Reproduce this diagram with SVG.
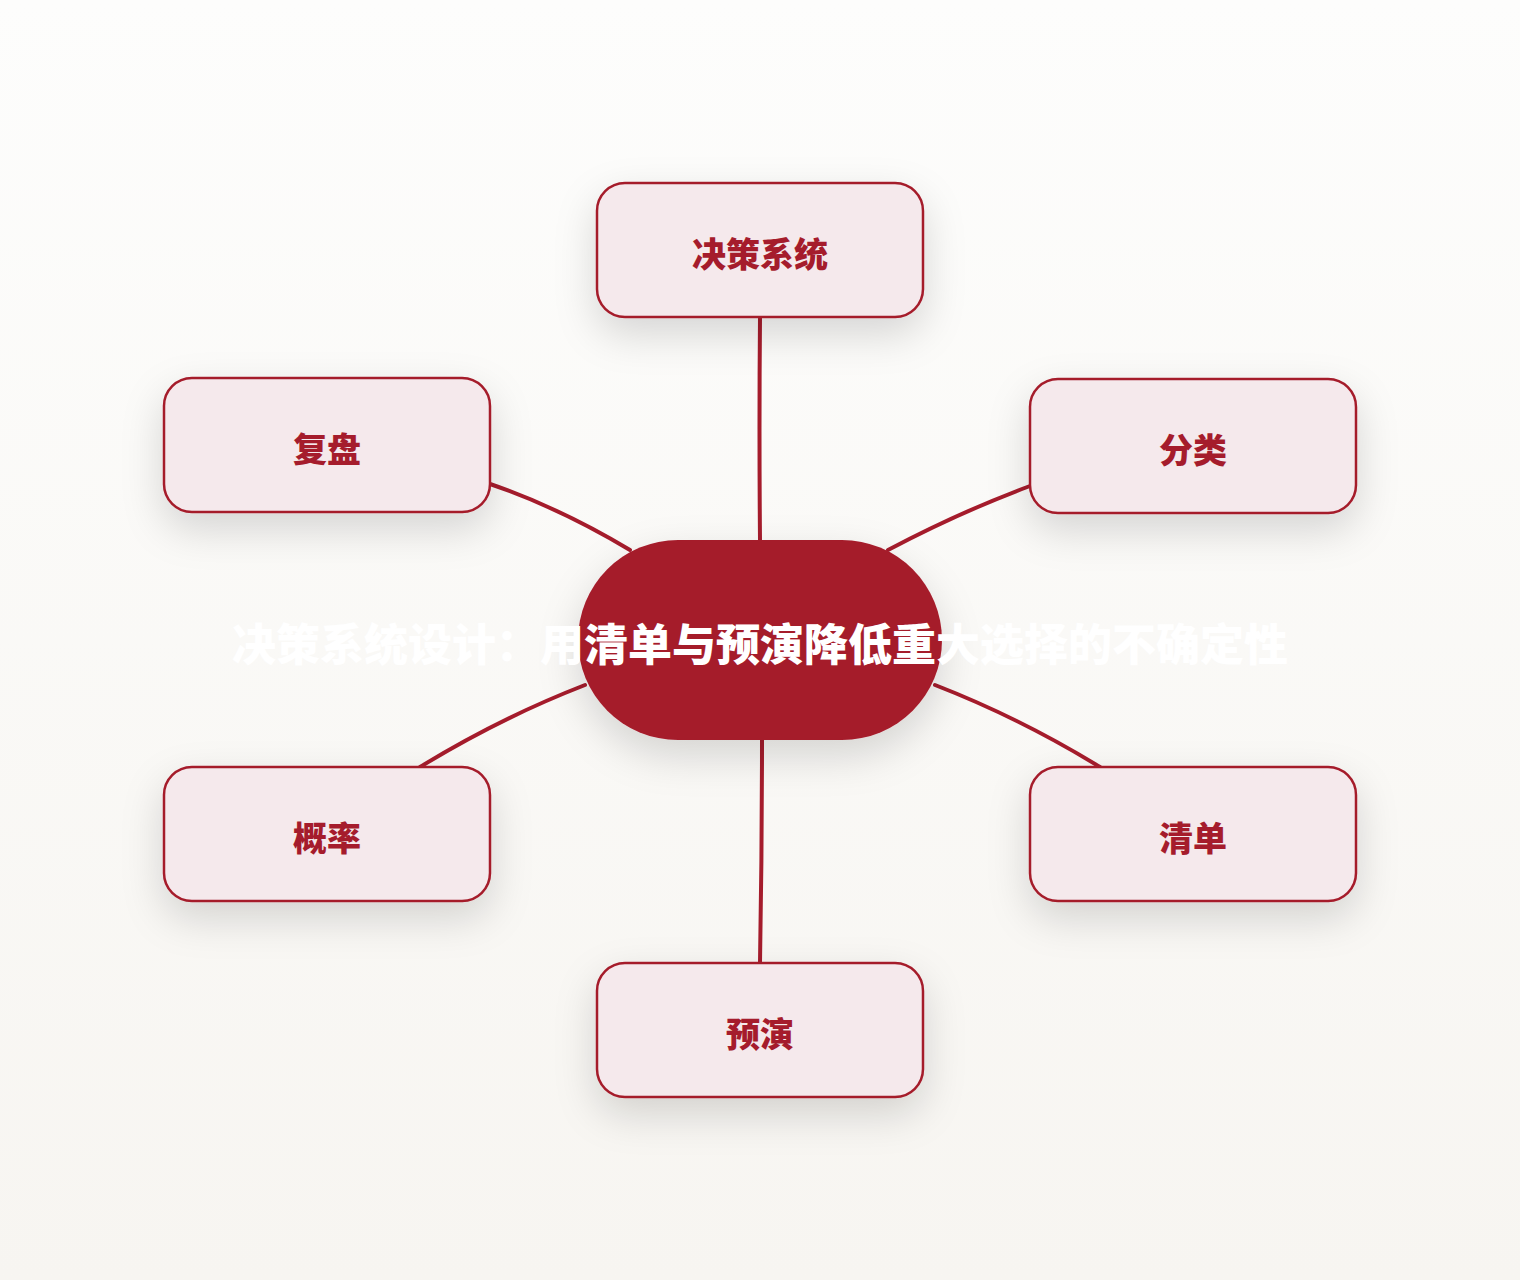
<svg xmlns="http://www.w3.org/2000/svg" width="1520" height="1280" viewBox="0 0 1520 1280">
<defs>
<linearGradient id="bg" x1="0" y1="0" x2="0" y2="1">
<stop offset="0" stop-color="#fdfdfc"/>
<stop offset="1" stop-color="#f7f5f1"/>
</linearGradient>
<filter id="sh" x="-40%" y="-40%" width="180%" height="200%">
<feDropShadow dx="0" dy="16" stdDeviation="20" flood-color="#000" flood-opacity="0.15"/>
</filter>
</defs>
<style>
.node rect{fill:#f5e9ec;stroke:#a51c2c;stroke-width:2.5;filter:url(#sh)}
.node text{font-family:"Noto Sans CJK SC","Noto Sans",sans-serif;font-weight:900;font-size:34px;fill:#a51c2c;text-anchor:middle;dominant-baseline:central}
.edges path{fill:none;stroke:#a51c2c;stroke-width:4;stroke-linecap:round}
.center rect{fill:#a51c2c;filter:url(#sh)}
.center text{font-family:"Noto Sans CJK SC","Noto Sans",sans-serif;font-weight:900;font-size:44px;fill:#ffffff;text-anchor:middle;dominant-baseline:central}
</style>
<rect width="1520" height="1280" fill="url(#bg)"/>
<g class="edges">
<path d="M760 317 Q759 430 760 540"/>
<path d="M490 484 Q560 508 630 550"/>
<path d="M1030 486 Q960 512 888 550"/>
<path d="M420 767 Q500 718 585 685"/>
<path d="M1100 767 Q1020 718 935 685"/>
<path d="M760 963 Q762 850 762 740"/>
</g>
<g id="center" class="center">
<rect x="578" y="540" width="364" height="200" rx="100" ry="100"/>
<text x="760" y="642">决策系统设计：用清单与预演降低重大选择的不确定性</text>
</g>
<g id="n-top" class="node">
<rect x="597" y="183" width="326" height="134" rx="28"/>
<text x="760" y="252">决策系统</text>
</g>
<g id="n-lt" class="node">
<rect x="164" y="378" width="326" height="134" rx="28"/>
<text x="327" y="447">复盘</text>
</g>
<g id="n-rt" class="node">
<rect x="1030" y="379" width="326" height="134" rx="28"/>
<text x="1193" y="448">分类</text>
</g>
<g id="n-lb" class="node">
<rect x="164" y="767" width="326" height="134" rx="28"/>
<text x="327" y="836">概率</text>
</g>
<g id="n-rb" class="node">
<rect x="1030" y="767" width="326" height="134" rx="28"/>
<text x="1193" y="836">清单</text>
</g>
<g id="n-bottom" class="node">
<rect x="597" y="963" width="326" height="134" rx="28"/>
<text x="760" y="1032">预演</text>
</g>
</svg>
